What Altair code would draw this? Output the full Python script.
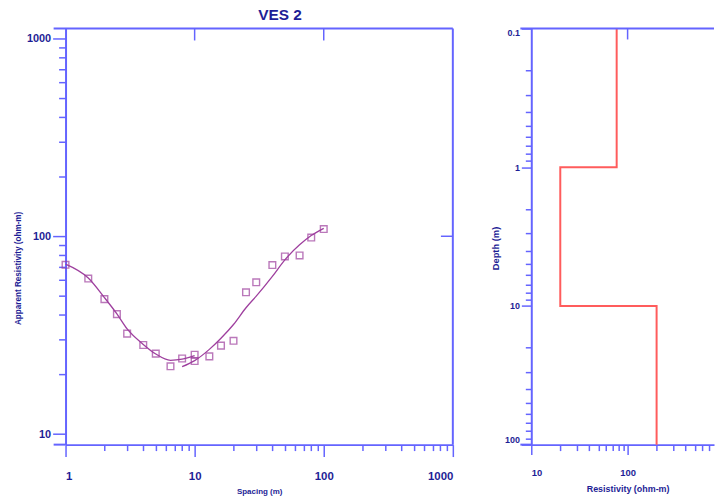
import altair as alt
import pandas as pd

# ---------------- data ----------------
# Field curve (AB/2 spacing in m, apparent resistivity in ohm-m)
spacing = [1, 1.5, 2, 2.5, 3, 4, 5, 6.5, 8, 10, 10, 13, 16, 20, 25, 30, 40, 50, 65, 80, 100]
app_res = [71.7, 61.1, 48.1, 40.4, 32.2, 28.2, 25.5, 22.0, 24.1, 25.2, 23.4, 24.7,
           28.0, 29.6, 52.1, 58.5, 71.5, 79.1, 80.0, 98.5, 108.8]

# Model curve, first segment
fit1_spacing = [1, 1.5, 2, 2.5, 3, 4, 5, 6.5, 8, 10]
fit1_res = [72.3, 61.5, 49.0, 40.5, 34.0, 28.4, 25.4, 23.6, 23.9, 24.9]
# Model curve, second segment
fit2_spacing = [8, 10, 13, 16, 20, 25, 30, 40, 50, 65, 80, 100]
fit2_res = [21.9, 23.5, 26.8, 30.5, 35.8, 43.5, 49.8, 62.7, 76.0, 90.5, 100.8, 109.7]

# Layered model (resistivity vs depth)
model_res = [77, 77, 20, 20, 200, 200]
model_depth = [0.1, 1, 1, 10, 10, 100]

# Axis tick labels
x1_major = [1, 10, 100, 1000]
y1_major = [10, 100, 1000]
x2_major = [10, 100]
y2_major = [0.1, 1, 10, 100]
top1_ticks = [10, 100]
right1_ticks = [100]
top2_ticks = [100]

# ---------------- styling ----------------
PURPLE = "#9E3F9E"
AXIS = "#6464FF"
TEXT = "#1E1E96"
RED = "#FF5C5C"
FONT = "Liberation Sans"

W1, H = 390, 419
W2 = 184
X2_MAX = 789


def ticks(decades):
    return [round(m * d, 6) for d in decades for m in range(1, 10)]


x1_ticks = ticks([1, 10, 100]) + [1000]
y1_ticks = ticks([10, 100]) + [1000]
x2_ticks = [t for t in ticks([10, 100]) if t <= X2_MAX]
y2_ticks = ticks([0.1, 1, 10]) + [100]


def major_test(vals):
    return "indexof([" + ",".join(str(v) for v in vals) + "], datum.value) >= 0"


def make_axis(major, tick_vals, orient, major_len, minor_len, label_size, pad,
              title, title_size, title_pad, flush, **kw):
    test = major_test(major)
    return alt.Axis(
        orient=orient, values=tick_vals, format="~g",
        labelExpr=f"{test} ? datum.label : ''",
        tickSize={"condition": {"test": test, "value": major_len}, "value": minor_len},
        labelPadding=pad, labelFontSize=label_size, labelOverlap=False,
        labelFlush=flush, grid=False, title=title, titleFontSize=title_size,
        titlePadding=title_pad, **kw)


x1_scale = alt.Scale(type="log", domain=[1, 1000], nice=False)
y1_scale = alt.Scale(type="log", domain=[8.84, 1123], nice=False)
x2_scale = alt.Scale(type="log", domain=[10, X2_MAX], nice=False)
y2_scale = alt.Scale(type="log", domain=[0.1, 100], nice=False, reverse=True)

x1_axis = make_axis(x1_major, x1_ticks, "bottom", 12, 6, 11.5, 14,
                    "Spacing (m)", 8, 6, True)
y1_axis = make_axis(y1_major, y1_ticks, "left", 13, 7, 11, 2,
                    "Apparent Resistivity (ohm-m)", 8.2, 4, False, titleY=241)
x2_axis = make_axis(x2_major, x2_ticks, "bottom", 10, 6, 9.5, 13,
                    "Resistivity (ohm-m)", 9, 8, True, titleX=97)
y2_axis = make_axis(y2_major, y2_ticks, "left", 10, 6, 9, 2,
                    "Depth (m)", 9.4, 4, True, titleY=221)

X1 = alt.X("spacing:Q", scale=x1_scale, axis=x1_axis)
Y1 = alt.Y("res:Q", scale=y1_scale, axis=y1_axis)
X2 = alt.X("res:Q", scale=x2_scale, axis=x2_axis)
Y2 = alt.Y("depth:Q", scale=y2_scale, axis=y2_axis)

obs = pd.DataFrame({"spacing": spacing, "res": app_res})
fit = pd.DataFrame({
    "spacing": fit1_spacing + fit2_spacing,
    "res": fit1_res + fit2_res,
    "seg": ["a"] * len(fit1_spacing) + ["b"] * len(fit2_spacing),
})
one = pd.DataFrame({"a": [0]})

points = alt.Chart(obs).mark_point(
    shape="square", filled=False, size=45, strokeWidth=1.4, color=PURPLE
).encode(x=X1, y=Y1)

curves = alt.Chart(fit).mark_line(
    color=PURPLE, strokeWidth=1.3, interpolate="monotone"
).encode(x=X1, y=Y1, detail="seg:N")

frame_kw = dict(color=AXIS, strokeWidth=2)
top_line = alt.Chart(one).mark_rule(**frame_kw).encode(
    x=alt.value(-12), x2=alt.value(W1), y=alt.value(0))
right_line = alt.Chart(one).mark_rule(**frame_kw).encode(
    x=alt.value(W1), y=alt.value(0), y2=alt.value(H))
bottom_ext = alt.Chart(one).mark_rule(**frame_kw).encode(
    x=alt.value(-12), x2=alt.value(0), y=alt.value(H))
top_ticks = alt.Chart(pd.DataFrame({"spacing": top1_ticks})).mark_rule(
    color=AXIS, strokeWidth=1.5).encode(x=X1, y=alt.value(0), y2=alt.value(12))
right_ticks = alt.Chart(pd.DataFrame({"res": right1_ticks})).mark_rule(
    color=AXIS, strokeWidth=1.5).encode(y=Y1, x=alt.value(W1 - 12), x2=alt.value(W1))
title = alt.Chart(pd.DataFrame({"t": ["VES 2"]})).mark_text(
    font=FONT, fontSize=15.5, fontWeight="bold", color=TEXT, baseline="middle"
).encode(x=alt.value(216), y=alt.value(-14), text="t:N")

left = alt.layer(points, curves, top_line, right_line, bottom_ext,
                 top_ticks, right_ticks, title).properties(width=W1, height=H)

# ---------------- right panel ----------------
model = pd.DataFrame({"res": model_res, "depth": model_depth,
                      "order": list(range(len(model_res)))})

steps = alt.Chart(model).mark_line(color=RED, strokeWidth=2).encode(
    x=X2, y=Y2, order="order:Q")
top_line2 = alt.Chart(one).mark_rule(**frame_kw).encode(
    x=alt.value(-11), x2=alt.value(W2), y=alt.value(0))
bottom_ext2 = alt.Chart(one).mark_rule(**frame_kw).encode(
    x=alt.value(-11), x2=alt.value(0), y=alt.value(H))
top_ticks2 = alt.Chart(pd.DataFrame({"res": top2_ticks})).mark_rule(
    color=AXIS, strokeWidth=1.5).encode(x=X2, y=alt.value(0), y2=alt.value(11))

right = alt.layer(steps, top_line2, bottom_ext2, top_ticks2).properties(width=W2, height=H)

chart = alt.hconcat(left, right, spacing=79, bounds="flush").properties(
    padding={"left": 13, "top": 6, "right": 0, "bottom": 0},
    background="white",
).configure_view(stroke=None).configure_axis(
    domainColor=AXIS, domainWidth=2, tickColor=AXIS, tickWidth=1.5,
    labelColor=TEXT, labelFont=FONT, labelFontWeight="bold",
    titleColor=TEXT, titleFont=FONT, titleFontWeight="bold",
)

chart.save("out.html", embed_options={"renderer": "svg", "actions": False})
